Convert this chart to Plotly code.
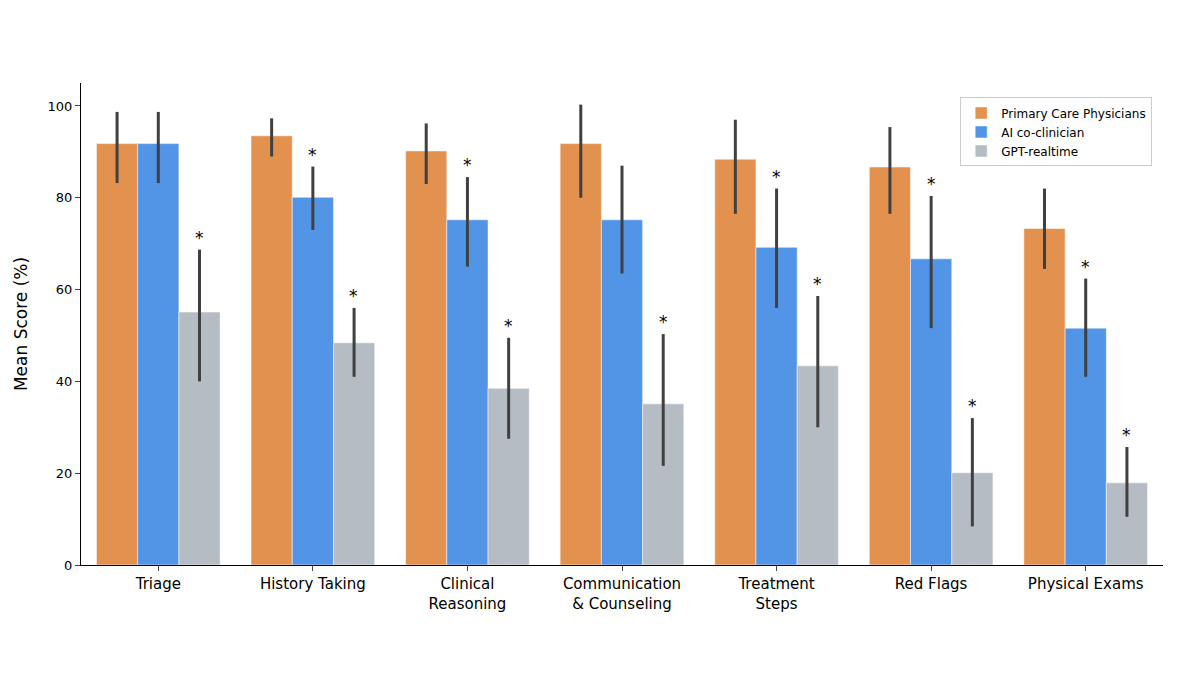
import plotly.graph_objects as go

categories = ["Triage", "History Taking", "Clinical<br>Reasoning", "Communication<br>& Counseling",
              "Treatment<br>Steps", "Red Flags", "Physical Exams"]
pcp = [91.8, 93.5, 90.2, 91.8, 88.4, 86.7, 73.3]
pcp_lo = [83.2, 89.0, 83.0, 80.0, 76.5, 76.5, 64.5]
pcp_hi = [98.7, 97.3, 96.2, 100.3, 97.0, 95.4, 82.0]
ai = [91.8, 80.1, 75.2, 75.2, 69.2, 66.7, 51.6]
ai_lo = [83.2, 73.0, 65.0, 63.5, 56.0, 51.6, 41.0]
ai_hi = [98.7, 86.8, 84.5, 87.0, 82.0, 80.4, 62.4]
gpt = [55.1, 48.4, 38.5, 35.1, 43.4, 20.1, 17.9]
gpt_lo = [40.0, 41.0, 27.5, 21.6, 30.0, 8.4, 10.5]
gpt_hi = [68.7, 56.0, 49.5, 50.3, 58.6, 32.0, 25.7]
ai_sig = [False, True, True, False, True, True, True]
gpt_sig = [True, True, True, True, True, True, True]

fig = go.Figure()
for name, v, lo, hi, col in [("Primary Care Physicians", pcp, pcp_lo, pcp_hi, "#E3914F"),
                             ("AI co-clinician", ai, ai_lo, ai_hi, "#5294E6"),
                             ("GPT-realtime", gpt, gpt_lo, gpt_hi, "#B5BCC4")]:
    fig.add_trace(go.Bar(
        x=categories, y=v, name=name, marker=dict(color=col, line=dict(color="white", width=0.5)),
        error_y=dict(type="data", symmetric=False,
                     array=[h - y for h, y in zip(hi, v)],
                     arrayminus=[y - l for l, y in zip(lo, v)],
                     color="#404040", thickness=3, width=0)))

anns = []
for i, c in enumerate(categories):
    if ai_sig[i]:
        anns.append(dict(x=c, y=ai_hi[i], text="*", showarrow=False, xref="x", yref="y",
                         yanchor="bottom", yshift=0, font=dict(size=17, color="black")))
    if gpt_sig[i]:
        anns.append(dict(x=c, y=gpt_hi[i], text="*", showarrow=False, xref="x", yref="y",
                         xshift=41, yanchor="bottom", font=dict(size=17, color="black")))

fig.update_layout(
    width=1200, height=675, barmode="group", bargap=0.2, bargroupgap=0,
    plot_bgcolor="white", paper_bgcolor="white",
    font=dict(family="DejaVu Sans", color="black"),
    margin=dict(l=73, r=45, t=75, b=118),
    annotations=anns,
    legend=dict(x=0.99, y=0.97, xanchor="right", yanchor="top", bordercolor="#cccccc",
                borderwidth=1, font=dict(size=12), bgcolor="white"),
    yaxis=dict(range=[0, 105], tickvals=[0, 20, 40, 60, 80, 100], showgrid=False,
               showline=True, linecolor="black", ticks="outside", ticklen=5,
               tickfont=dict(size=13), zeroline=False,
               title=dict(text="Mean Score (%)", font=dict(size=17))),
    xaxis=dict(showline=True, linecolor="black", ticks="outside", ticklen=5,
               tickfont=dict(size=15)),
)
fig.write_html("out.html")
